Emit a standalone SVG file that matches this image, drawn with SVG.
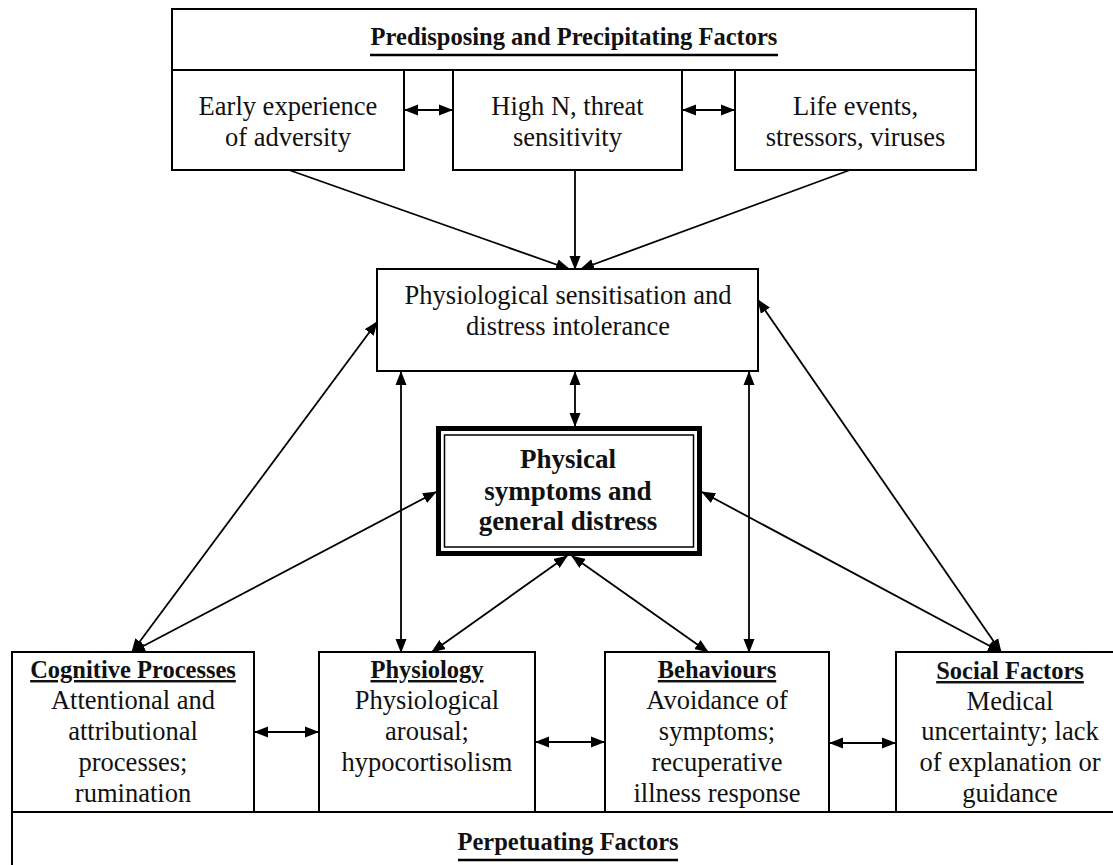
<svg xmlns="http://www.w3.org/2000/svg" width="1113" height="865" viewBox="0 0 1113 865">
<defs>
<marker id="ah" markerUnits="userSpaceOnUse" markerWidth="14" markerHeight="12" refX="13" refY="5.5" orient="auto-start-reverse" viewBox="0 0 14 11">
<path d="M0,0 L14,5.5 L0,11 z" fill="#000"/>
</marker>
<style>
.box{fill:#fff;stroke:#000;stroke-width:2}
.t{font-family:"Liberation Serif","Times New Roman",serif;font-size:26.5px;fill:#111;text-anchor:middle}
.b{font-family:"Liberation Serif","Times New Roman",serif;font-size:24.5px;font-weight:bold;fill:#111;text-anchor:middle}
.bc{font-family:"Liberation Serif","Times New Roman",serif;font-size:27px;font-weight:bold;fill:#111;text-anchor:middle}
.u{text-decoration:underline}
.ln{stroke:#000;stroke-width:1.8;fill:none}
.a1{marker-end:url(#ah)}
.a2{marker-start:url(#ah);marker-end:url(#ah)}
</style>
</defs>
<rect width="1113" height="865" fill="#fff"/>

<g id="predisposing">
<rect class="box" x="172" y="9" width="804" height="61"/>
<text class="b" x="574" y="45">Predisposing and Precipitating Factors</text>
<line x1="370" y1="55" x2="778" y2="55" stroke="#000" stroke-width="2.5"/>
</g>
<g id="early">
<rect class="box" x="172" y="70" width="232" height="100"/>
<text class="t" x="288" y="115">Early experience</text>
<text class="t" x="288" y="146">of adversity</text>
</g>
<g id="highN">
<rect class="box" x="453" y="70" width="229" height="100"/>
<text class="t" x="567.5" y="115">High N, threat</text>
<text class="t" x="567.5" y="146">sensitivity</text>
</g>
<g id="life">
<rect class="box" x="735" y="70" width="241" height="100"/>
<text class="t" x="855.5" y="115">Life events,</text>
<text class="t" x="855.5" y="146">stressors, viruses</text>
</g>

<g id="sensitisation">
<rect class="box" x="377" y="269" width="381" height="102"/>
<text class="t" x="568" y="304">Physiological sensitisation and</text>
<text class="t" x="568" y="335">distress intolerance</text>
</g>

<g id="symptoms">
<rect x="438.5" y="428.5" width="261" height="125" fill="#fff" stroke="#000" stroke-width="5"/>
<rect x="444.5" y="435" width="249" height="112" fill="none" stroke="#000" stroke-width="1.5"/>
<text class="bc" x="568" y="468">Physical</text>
<text class="bc" x="568" y="500">symptoms and</text>
<text class="bc" x="568" y="530">general distress</text>
</g>

<g id="perpetuating">
<rect class="box" x="12" y="812" width="1125" height="80"/>
<text class="b" x="568" y="850">Perpetuating Factors</text>
<line x1="458" y1="860" x2="678" y2="860" stroke="#000" stroke-width="2.5"/>
</g>
<g id="cognitive">
<rect class="box" x="12" y="652" width="242" height="160"/>
<text class="b u" x="133" y="678">Cognitive Processes</text>
<text class="t" x="133" y="709">Attentional and</text>
<text class="t" x="133" y="740">attributional</text>
<text class="t" x="133" y="771">processes;</text>
<text class="t" x="133" y="802">rumination</text>
</g>
<g id="physiology">
<rect class="box" x="319" y="652" width="216" height="160"/>
<text class="b u" x="427" y="678">Physiology</text>
<text class="t" x="427" y="709">Physiological</text>
<text class="t" x="427" y="740">arousal;</text>
<text class="t" x="427" y="771">hypocortisolism</text>
</g>
<g id="behaviours">
<rect class="box" x="605" y="652" width="224" height="160"/>
<text class="b u" x="717" y="678">Behaviours</text>
<text class="t" x="717" y="709">Avoidance of</text>
<text class="t" x="717" y="740">symptoms;</text>
<text class="t" x="717" y="771">recuperative</text>
<text class="t" x="717" y="802">illness response</text>
</g>
<g id="social">
<rect class="box" x="896" y="652" width="240" height="160"/>
<text class="b u" x="1010" y="679">Social Factors</text>
<text class="t" x="1010" y="710">Medical</text>
<text class="t" x="1010" y="740">uncertainty; lack</text>
<text class="t" x="1010" y="771">of explanation or</text>
<text class="t" x="1010" y="802">guidance</text>
</g>

<g id="connectors">
<line class="ln a2" x1="405" y1="110" x2="452" y2="110"/>
<line class="ln a2" x1="683" y1="110" x2="734" y2="110"/>
<line class="ln a1" x1="289" y1="170" x2="569" y2="269"/>
<line class="ln a1" x1="575" y1="170" x2="575" y2="269"/>
<line class="ln a1" x1="850" y1="170" x2="581" y2="269"/>
<line class="ln a2" x1="575" y1="372" x2="575" y2="426"/>
<line class="ln a2" x1="132" y1="652" x2="377" y2="322"/>
<line class="ln a2" x1="132" y1="652" x2="436" y2="492"/>
<line class="ln a2" x1="401" y1="652" x2="401" y2="372"/>
<line class="ln a2" x1="432" y1="652" x2="567" y2="556"/>
<line class="ln a2" x1="708" y1="652" x2="572" y2="556"/>
<line class="ln a2" x1="749" y1="652" x2="749" y2="372"/>
<line class="ln a2" x1="1001" y1="652" x2="702" y2="492"/>
<line class="ln a2" x1="1001" y1="652" x2="758" y2="300"/>
<line class="ln a2" x1="255" y1="732" x2="318" y2="732"/>
<line class="ln a2" x1="536" y1="742" x2="604" y2="742"/>
<line class="ln a2" x1="830" y1="743" x2="895" y2="743"/>
</g>
</svg>
